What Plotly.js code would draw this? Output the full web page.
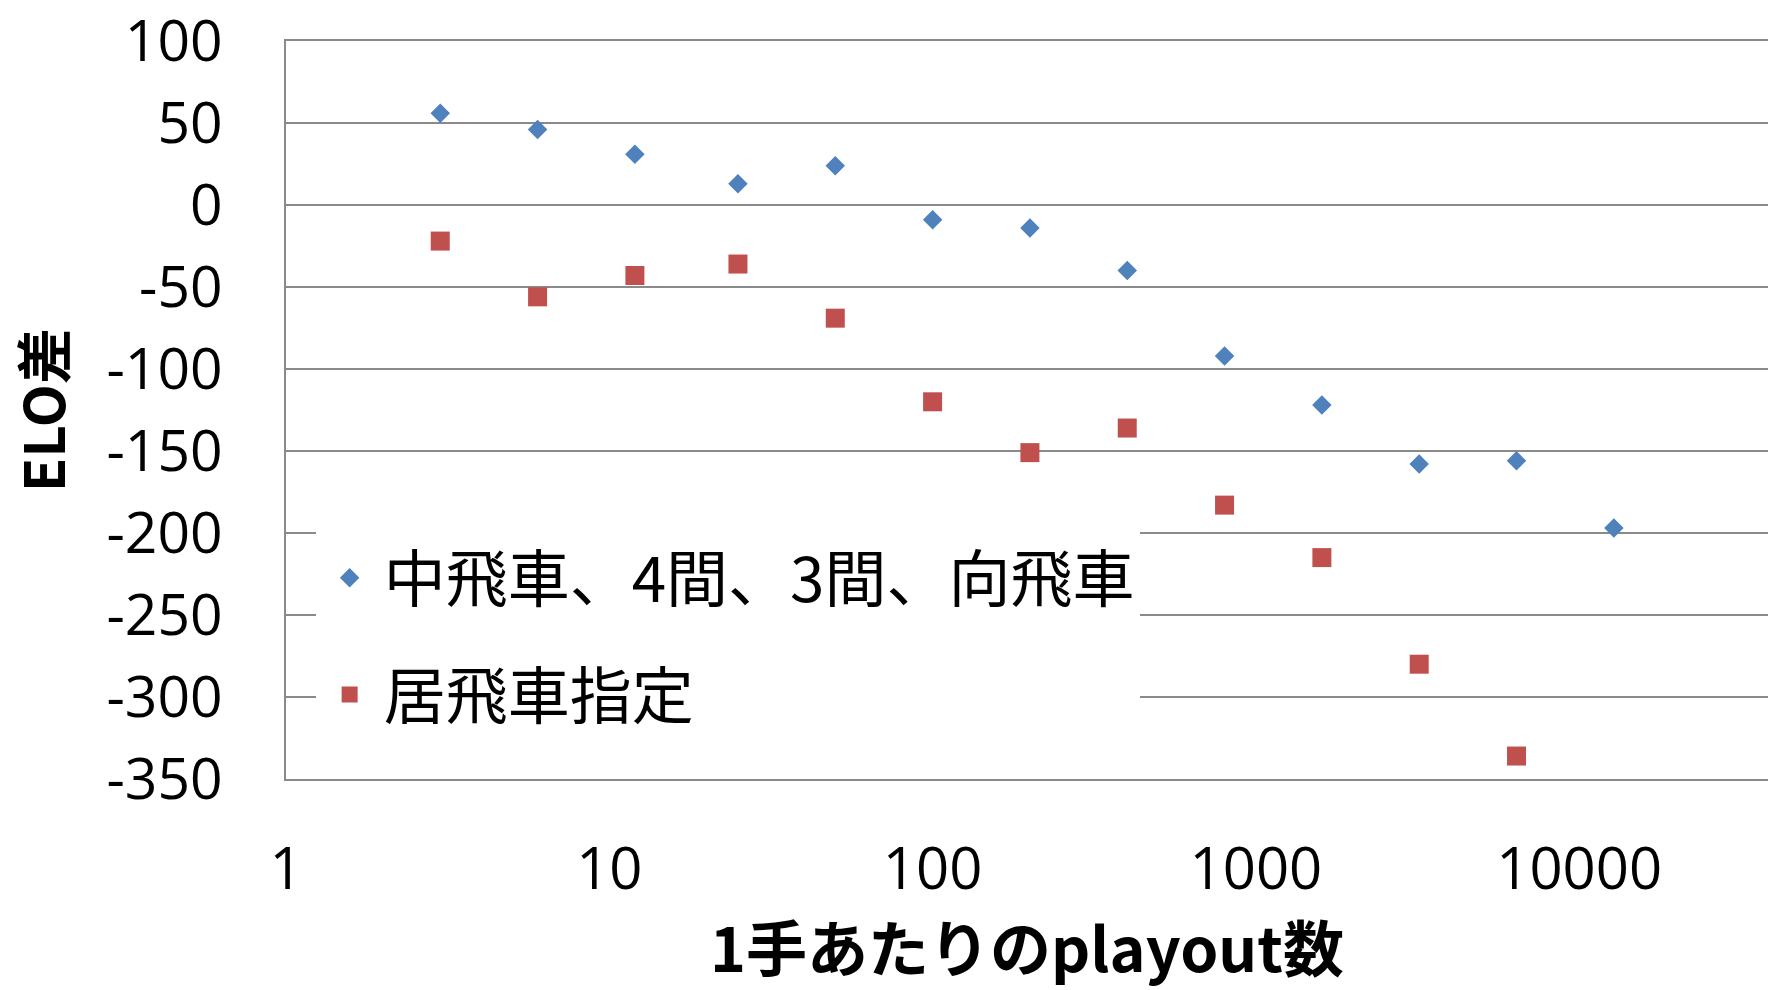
<!DOCTYPE html>
<html>
<head>
<meta charset="utf-8">
<script src="https://cdn.plot.ly/plotly-3.0.1.min.js"></script>
<style>html,body{margin:0;padding:0;background:#fff;}#chart{width:1768px;height:990px;}</style>
</head>
<body>
<div id="chart"></div>
<script>
const xPlayouts = [3, 6, 12, 25, 50, 100, 200, 400, 800, 1600, 3200, 6400, 12800];
const eloFuribisha = [56, 46, 31, 13, 24, -9, -14, -40, -92, -122, -158, -156, -197];
const eloIbisha = [-22, -56, -43, -36, -69, -120, -151, -136, -183, -215, -280, -336];
const seriesNames = ['中飛車、4間、3間、向飛車', '居飛車指定'];
const xTickVals = [1, 10, 100, 1000, 10000];
const xTickText = ['1', '10', '100', '1000', '10000'];
const yTickVals = [-350, -300, -250, -200, -150, -100, -50, 0, 50, 100];
const yTickText = ['-350', '-300', '-250', '-200', '-150', '-100', '-50', '0', '50', '100'];
const xTitle = '1手あたりのplayout数';
const yTitle = 'ELO差';

const FONT = 'Open Sans, Noto Sans CJK JP, sans-serif';
const CJK = 'Noto Sans CJK JP, Open Sans, sans-serif';
const GRID = '#8a8a8a';

const traces = [
  {
    type: 'scatter', mode: 'markers', name: seriesNames[0], legendgroup: 'a',
    x: xPlayouts, y: eloFuribisha,
    marker: {symbol: 'diamond', size: 15, color: '#4F81BD'}
  },
  {
    type: 'scatter', mode: 'markers', name: seriesNames[1], legendgroup: 'b',
    x: xPlayouts.slice(0, eloIbisha.length), y: eloIbisha,
    marker: {symbol: 'square', size: 19, color: '#C0504D'}
  }
];

const layout = {
  width: 1768, height: 990,
  margin: {l: 286, r: 0, t: 41, b: 211},
  paper_bgcolor: '#ffffff', plot_bgcolor: '#ffffff',
  font: {family: FONT, color: '#000000', size: 57},
  showlegend: true,
  legend: {
    x: 0.020, y: 0.336, xanchor: 'left', yanchor: 'top',
    bgcolor: '#ffffff', borderwidth: 0,
    font: {family: CJK, size: 62, color: '#000000'},
    traceorder: 'grouped', tracegroupgap: 33,
    itemwidth: 58,
    itemsizing: 'trace'
  },
  xaxis: {
    type: 'log', range: [0, 4.584],
    tickvals: xTickVals, ticktext: xTickText,
    showgrid: false, zeroline: false,
    showline: true, mirror: true, linecolor: GRID, linewidth: 2,
    ticks: '', ticklabelstandoff: 38,
    ticklabeloverflow: 'allow',
    tickfont: {family: FONT, size: 58, color: '#000'},
    title: {text: xTitle, standoff: 64, font: {family: CJK, size: 61, color: '#000', weight: 'bold'}}
  },
  yaxis: {
    range: [-350, 100],
    tickmode: 'array',
    tickvals: yTickVals, ticktext: yTickText,
    showgrid: true, gridcolor: GRID, gridwidth: 2,
    zeroline: false,
    showline: true, linecolor: GRID, linewidth: 2,
    ticks: '', ticklabelstandoff: 50,
    ticklabeloverflow: 'allow',
    tickfont: {family: FONT, size: 57, color: '#000'},
    title: {text: yTitle, standoff: 28, font: {family: CJK, size: 56, color: '#000', weight: 'bold'}}
  }
};

Plotly.newPlot('chart', traces, layout, {displayModeBar: false, staticPlot: true});
</script>
</body>
</html>
